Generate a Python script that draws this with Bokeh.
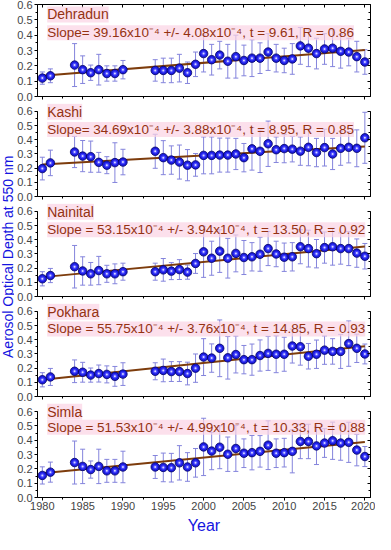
import numpy as np
from bokeh.plotting import figure
from bokeh.layouts import row, column
from bokeh.models import (ColumnDataSource, Whisker, TeeHead, LinearAxis, FixedTicker,
                          PrintfTickFormatter, Label, Range1d, CustomLabelingPolicy)
from bokeh.embed import file_html
from bokeh.resources import INLINE

# ---------------- data ----------------
years = [1980, 1981, 1984, 1985, 1986, 1987, 1988, 1989, 1990,
         1994, 1995, 1996, 1997, 1998, 1999,
         2000, 2001, 2002, 2003, 2004, 2005, 2006, 2007, 2008, 2009, 2010,
         2011, 2012, 2013, 2014, 2015, 2016, 2017, 2018, 2019, 2020]

sites = ["Dehradun", "Kashi", "Nainital", "Pokhara", "Simla"]

dehradun_aod = [0.12, 0.135, 0.205, 0.175, 0.155, 0.175, 0.15, 0.15, 0.175,
                0.17, 0.17, 0.17, 0.185, 0.155, 0.21,
                0.28, 0.24, 0.27, 0.23, 0.26, 0.235, 0.25, 0.25, 0.29, 0.25, 0.235,
                0.245, 0.33, 0.315, 0.28, 0.31, 0.315, 0.295, 0.29, 0.26, 0.225]
dehradun_err = [0.04, 0.045, 0.14, 0.09, 0.05, 0.10, 0.05, 0.05, 0.06,
                0.07, 0.08, 0.08, 0.09, 0.07, 0.08,
                0.12, 0.10, 0.09, 0.11, 0.14, 0.10, 0.12, 0.10, 0.12, 0.09, 0.08,
                0.10, 0.12, 0.12, 0.10, 0.10, 0.12, 0.11, 0.09, 0.10, 0.08]

kashi_aod = [0.197, 0.237, 0.314, 0.285, 0.281, 0.241, 0.221, 0.239, 0.243,
             0.319, 0.274, 0.257, 0.243, 0.221, 0.223,
             0.29, 0.29, 0.292, 0.292, 0.30, 0.274, 0.336, 0.319, 0.372, 0.33, 0.338,
             0.334, 0.32, 0.347, 0.31, 0.345, 0.30, 0.34, 0.347, 0.34, 0.414]
kashi_err = [0.08, 0.09, 0.11, 0.11, 0.11, 0.07, 0.06, 0.14, 0.09,
             0.12, 0.12, 0.10, 0.12, 0.11, 0.08,
             0.13, 0.13, 0.12, 0.12, 0.11, 0.10, 0.15, 0.15, 0.16, 0.09, 0.10,
             0.09, 0.10, 0.13, 0.10, 0.13, 0.11, 0.12, 0.11, 0.13, 0.18]

nainital_aod = [0.125, 0.148, 0.21, 0.18, 0.16, 0.183, 0.16, 0.16, 0.175,
                0.175, 0.188, 0.179, 0.19, 0.172, 0.233,
                0.315, 0.27, 0.32, 0.27, 0.304, 0.275, 0.28, 0.298, 0.338, 0.30, 0.277,
                0.28, 0.351, 0.338, 0.302, 0.345, 0.351, 0.338, 0.338, 0.306, 0.284]
nainital_err = [0.05, 0.05, 0.15, 0.10, 0.08, 0.10, 0.06, 0.07, 0.06,
                0.06, 0.08, 0.06, 0.07, 0.05, 0.07,
                0.18, 0.12, 0.15, 0.14, 0.13, 0.12, 0.10, 0.12, 0.12, 0.09, 0.10,
                0.10, 0.12, 0.13, 0.10, 0.11, 0.13, 0.11, 0.12, 0.10, 0.09]

pokhara_aod = [0.118, 0.138, 0.178, 0.171, 0.151, 0.162, 0.156, 0.142, 0.158,
               0.178, 0.184, 0.176, 0.176, 0.162, 0.20,
               0.278, 0.271, 0.34, 0.273, 0.296, 0.26, 0.26, 0.289, 0.304, 0.298, 0.298,
               0.356, 0.351, 0.284, 0.298, 0.327, 0.318, 0.318, 0.373, 0.34, 0.30]
pokhara_err = [0.05, 0.06, 0.08, 0.07, 0.05, 0.06, 0.06, 0.07, 0.08,
               0.06, 0.08, 0.07, 0.07, 0.08, 0.10,
               0.13, 0.10, 0.20, 0.15, 0.13, 0.10, 0.11, 0.11, 0.12, 0.13, 0.12,
               0.12, 0.13, 0.09, 0.10, 0.10, 0.09, 0.12, 0.16, 0.10, 0.07]

simla_aod = [0.154, 0.177, 0.244, 0.217, 0.195, 0.217, 0.186, 0.186, 0.213,
             0.213, 0.21, 0.208, 0.242, 0.213, 0.242,
             0.353, 0.324, 0.351, 0.302, 0.342, 0.309, 0.313, 0.322, 0.365, 0.309, 0.313,
             0.322, 0.391, 0.391, 0.36, 0.38, 0.396, 0.38, 0.385, 0.331, 0.286]
simla_err = [0.06, 0.07, 0.15, 0.12, 0.06, 0.12, 0.08, 0.08, 0.11,
             0.08, 0.10, 0.10, 0.12, 0.10, 0.10,
             0.20, 0.13, 0.15, 0.12, 0.16, 0.10, 0.12, 0.11, 0.17, 0.10, 0.10,
             0.15, 0.12, 0.12, 0.13, 0.10, 0.13, 0.12, 0.14, 0.11, 0.07]

slope_vals = ["39.16", "34.69", "53.15", "55.75", "51.53"]
slope_errs = ["4.08", "3.88", "3.94", "3.76", "4.99"]
t_vals = ["9.61", "8.95", "13.50", "14.85", "10.33"]
r_vals = ["0.86", "0.85", "0.92", "0.93", "0.88"]
slope_sep = ["Slope= ", "Slope= ", "Slope = ", "Slope = ", "Slope = "]

x_major = [1980, 1985, 1990, 1995, 2000, 2005, 2010, 2015, 2020]
y_major = [0.0, 0.1, 0.2, 0.3, 0.4, 0.5, 0.6]

aod_list = [dehradun_aod, kashi_aod, nainital_aod, pokhara_aod, simla_aod]
err_list = [dehradun_err, kashi_err, nainital_err, pokhara_err, simla_err]

# ---------------- style ----------------
FONT = "Liberation Sans"
TXT_COLOR = "#943212"
LINE_COLOR = "#7d3c0c"
BAR_COLOR = "#8484dc"
AX_BLUE = "#1414e0"

W = 361
LEFT_B, RIGHT_B = 20, 5
heights = [103, 100, 100, 100, 112]
YEAR_H = 19
tops = [3, 0, 0, 0, 0]
bottoms = [6, 6, 6, 6, 18]
y_tops = [0.6, 0.656, 0.656, 0.656, 0.656]
name_y = [0.535, 0.597, 0.597, 0.597, 0.6]
slope_y = [0.415, 0.472, 0.47, 0.477, 0.49]

NO_LABELS = CustomLabelingPolicy(code="""
    const all = [...indices];
    for (const i of all) indices.unset(i);
    return indices;
""")

x_range = Range1d(1979.4, 2020.7)
x_minor = list(np.arange(1980, 2020.01, 2.5))
y_minor = list(np.round(np.arange(0, 0.601, 0.05), 2))

figs = []
for i, site in enumerate(sites):
    last = (i == len(sites) - 1)
    p = figure(width=W, height=heights[i], x_range=x_range, y_range=Range1d(0, y_tops[i]),
               output_backend="svg", toolbar_location=None,
               min_border_left=LEFT_B, min_border_right=RIGHT_B,
               min_border_top=tops[i], min_border_bottom=bottoms[i])
    p.outline_line_color = None
    p.xgrid.visible = False
    p.ygrid.visible = False
    p.background_fill_color = "white"

    # axes
    xa = p.xaxis[0]
    xa.ticker = FixedTicker(ticks=x_major, minor_ticks=x_minor)
    xa.major_tick_out = 3
    xa.major_tick_in = 0
    xa.minor_tick_out = 2
    xa.minor_tick_in = 0
    xa.axis_line_color = "black"
    xa.major_label_text_font = FONT
    if last:
        xa.major_label_text_font_size = "11px"
        xa.major_label_standoff = 1
    else:
        xa.major_label_text_font_size = "1px"
        xa.major_label_standoff = 0
        xa.major_label_policy = NO_LABELS

    ya = p.yaxis[0]
    ya.ticker = FixedTicker(ticks=y_major, minor_ticks=y_minor)
    ya.formatter = PrintfTickFormatter(format="%.1f")
    ya.bounds = (0, 0.6)
    ya.major_tick_out = 3
    ya.major_tick_in = 0
    ya.minor_tick_out = 2
    ya.minor_tick_in = 0
    ya.major_label_text_font = FONT
    ya.major_label_text_font_size = "11px"
    ya.major_label_standoff = 2

    ra = LinearAxis(ticker=FixedTicker(ticks=y_major, minor_ticks=y_minor), bounds=(0, 0.6),
                    major_tick_in=3, major_tick_out=0, minor_tick_in=2, minor_tick_out=0,
                    major_label_text_font_size="1px", major_label_standoff=0,
                    major_label_policy=NO_LABELS)
    p.add_layout(ra, "right")
    if i == 0:
        ta = LinearAxis(ticker=FixedTicker(ticks=x_major, minor_ticks=x_minor),
                        major_tick_in=3, major_tick_out=0, minor_tick_in=2, minor_tick_out=0,
                        major_label_text_font_size="1px", major_label_standoff=0,
                        major_label_policy=NO_LABELS)
        p.add_layout(ta, "above")

    aod = np.array(aod_list[i])
    err = np.array(err_list[i])
    src = ColumnDataSource(dict(x=years, y=aod, upper=aod + err, lower=aod - err))

    wh = Whisker(source=src, base="x", upper="upper", lower="lower",
                 line_color=BAR_COLOR, line_width=1,
                 upper_head=TeeHead(size=5, line_color=BAR_COLOR, line_width=1),
                 lower_head=TeeHead(size=5, line_color=BAR_COLOR, line_width=1))
    p.add_layout(wh)

    # regression line (least squares through the data)
    coef = np.polyfit(years, aod, 1)
    fx = [years[0], years[-1]]
    fy = [coef[0] * fx[0] + coef[1], coef[0] * fx[1] + coef[1]]
    p.line(fx, fy, line_color=LINE_COLOR, line_width=2)

    # sphere-like markers
    p.scatter("x", "y", source=src, size=8.5, fill_color="#1c1ce0", line_color="#00005e",
              line_width=0.8)
    p.scatter("x", "y", source=src, size=4.5, fill_color="#4848ff", line_color=None)
    p.scatter("x", "y", source=src, size=2, fill_color="#d8d8ff", line_color=None)

    # labels
    p.add_layout(Label(x=1980.6, y=name_y[i], text=site, text_font=FONT,
                       text_font_size="14px", text_color=TXT_COLOR, text_baseline="middle",
                       background_fill_color="#fbd3e4", background_fill_alpha=0.7))
    stxt = (f"{slope_sep[i]}{slope_vals[i]}x10\u207b\u2074 +/- {slope_errs[i]}x10\u207b\u2074, "
            f"t = {t_vals[i]}, R = {r_vals[i]}")
    p.add_layout(Label(x=1980.6, y=slope_y[i], text=stxt, text_font=FONT,
                       text_font_size="13.5px", text_color=TXT_COLOR, text_baseline="middle",
                       background_fill_color="#fbd3e4", background_fill_alpha=0.7))
    figs.append(p)

# strip below holding the x-axis title
yp = figure(width=W, height=YEAR_H, x_range=x_range, y_range=(0, 1),
            output_backend="svg", toolbar_location=None,
            min_border_left=LEFT_B, min_border_right=RIGHT_B, min_border_top=0,
            min_border_bottom=0)
yp.axis.visible = False
yp.xgrid.visible = False
yp.ygrid.visible = False
yp.outline_line_color = None
yp.add_layout(Label(x=(x_range.start + x_range.end) / 2, y=0.45, text="Year",
                    text_font=FONT, text_font_size="16px", text_color=AX_BLUE,
                    text_align="center", text_baseline="middle"))

# left strip holding the common y-axis title
lp = figure(width=14, height=sum(heights) + YEAR_H, x_range=(0, 1), y_range=(0, 1),
            output_backend="svg", toolbar_location=None, min_border=0)
lp.axis.visible = False
lp.xgrid.visible = False
lp.ygrid.visible = False
lp.outline_line_color = None
lp.add_layout(Label(x=0.5, y=0.52, angle=np.pi / 2, text="Aerosol Optical Depth at 550 nm",
                    text_font=FONT, text_font_size="14px", text_color=AX_BLUE,
                    text_align="center", text_baseline="middle"))

layout = row(lp, column(*figs, yp, spacing=0), spacing=0)

open("out.html", "w").write(file_html(layout, INLINE))
